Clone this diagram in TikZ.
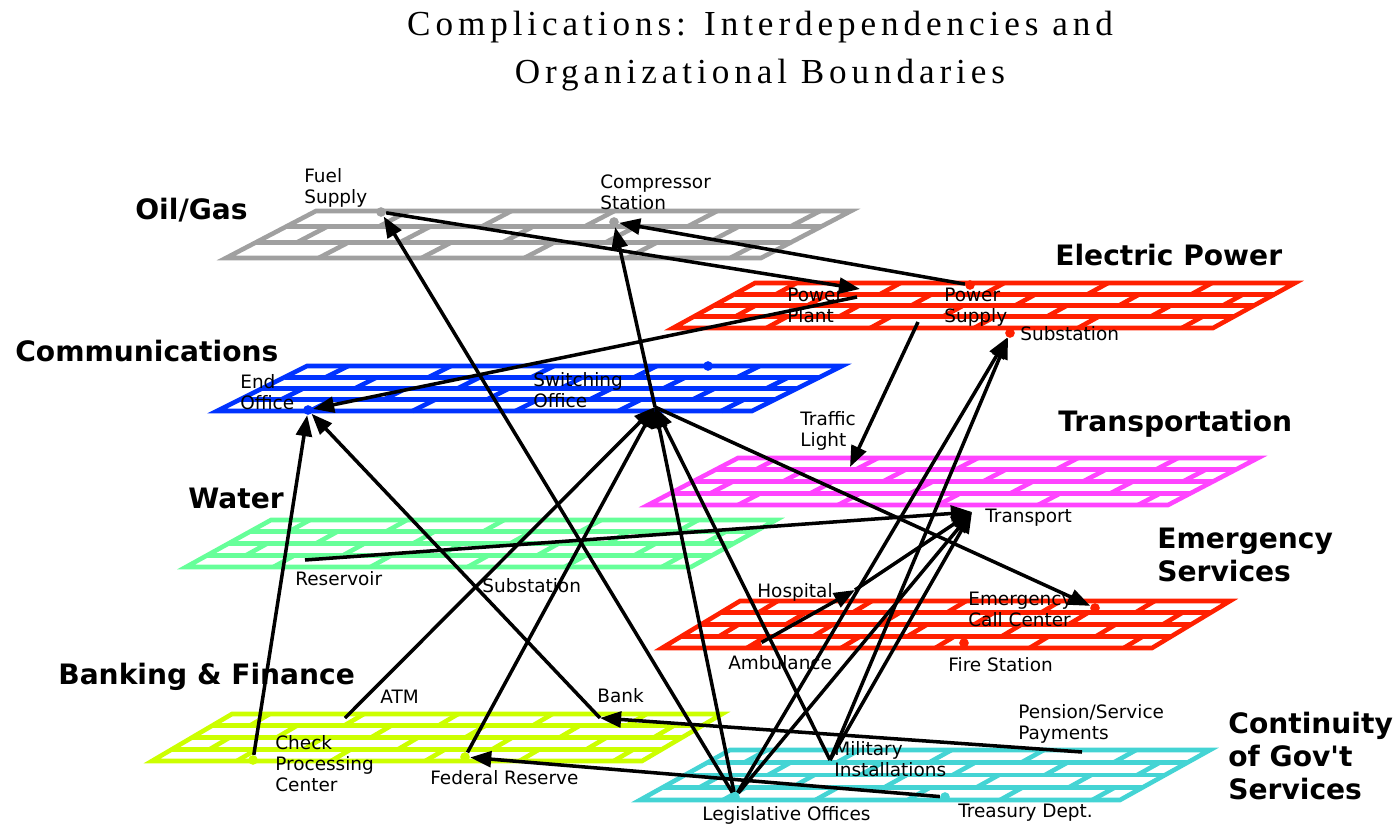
\documentclass[tikz,border=0pt]{standalone}
\usepackage{fontspec}
\setmainfont{Liberation Serif}
\newfontfamily\labelfont{DejaVu Sans}
\newfontfamily\titlefont[LetterSpace=14]{Liberation Serif}
\usetikzlibrary{arrows.meta,positioning}

\definecolor{gasgray}{RGB}{160,160,160}
\definecolor{powerred}{RGB}{255,32,0}
\definecolor{commblue}{RGB}{0,51,255}
\definecolor{transmag}{RGB}{255,68,255}
\definecolor{watergreen}{RGB}{102,255,153}
\definecolor{bankgreen}{RGB}{204,255,0}
\definecolor{govcyan}{RGB}{68,212,212}

\tikzset{%
	sector/.style = {font=\labelfont\bfseries\fontsize{16}{18.7}\selectfont, align=left, inner sep=0pt, anchor=west},
	site/.style   = {font=\labelfont\fontsize{10.5}{12}\selectfont, align=left, inner sep=0pt, anchor=north west},
	link/.style   = {line width=2pt, -{Triangle[length=12pt,width=9pt]}},
	hub/.style    = {circle, inner sep=0pt, minimum size=5.5pt},
}

% colour, x and y of lower left corner, width, slant of top edge, height, rows
\newcommand{\gridlayer}[7]{%
	\begin{scope}[shift={(#2,#3)}, x={(0.02cm,0cm)}, y={(#5*0.02cm,#6*0.02cm)}, color=#1, line width=2.6pt]
	\draw (0,0) -- (#4,0) -- (#4,1) -- (0,1) -- cycle;
	\pgfmathtruncatemacro\lastrow{#7-1}
	\foreach \k in {1,...,\lastrow} \draw (0,\k/#7) -- (#4,\k/#7);
	\foreach \k in {0,...,\lastrow}
		\foreach \j in {1,...,5} {
			\pgfmathsetmacro\u{(\j-0.5*mod(\k,2)-0.1)*#4/5.2}
			\draw (\u,\k/#7) -- (\u,{(\k+1)/#7});
		}
	\end{scope}}

\begin{document}
\begin{tikzpicture}[x=0.02cm, y=-0.02cm]
	\useasboundingbox (0,0) rectangle (1395,824);
	\node[font=\titlefont\fontsize{20}{27}\selectfont, align=center, inner sep=0pt, anchor=north] (title) at (760,11) {Complications: Interdependencies and\\Organizational Boundaries};
	
	% layers
	\gridlayer{gasgray}{226}{258}{535}{90}{47}{3}
	\gridlayer{powerred}{673}{328}{540}{82}{45}{4}
	\gridlayer{commblue}{217}{411}{535}{90}{45}{4}
	\gridlayer{transmag}{648}{505}{520}{90}{47}{4}
	\gridlayer{watergreen}{186}{567}{505}{85}{47}{4}
	\gridlayer{powerred}{662}{648}{490}{78}{47}{4}
	\gridlayer{bankgreen}{152}{761}{490}{80}{47}{4}
	\gridlayer{govcyan}{640}{800}{480}{90}{50}{4}
	
	\node[sector] (oilgas) at (135,210) {Oil/Gas};
	\node[sector] (electric) at (1055,255) {Electric Power};
	\node[sector] (comms) at (15,351) {Communications};
	\node[sector] (transp) at (1058,424) {Transportation};
	\node[sector] (water) at (188,498) {Water};
	\node[sector] (emergency) at (1157,555) {Emergency\\Services};
	\node[sector] (banking) at (58,677) {Banking \& Finance};
	\node[sector] (government) at (1228,756) {Continuity\\of Gov't\\Services};
	
	% sites
	\node[hub, fill=gasgray] (fuel) at (381,212) {};
	\node[hub, fill=gasgray] (compressor) at (614,222) {};
	\coordinate (plant) at (860,289);
	\coordinate (plantout) at (857,297);
	\node[hub, fill=powerred] (supply) at (970,285) {};
	\coordinate (supplyout) at (918,322);
	\node[hub, fill=powerred] (powersub) at (1010,333) {};
	\node[hub, fill=commblue] (endoffice) at (308,410) {};
	\node[hub, fill=commblue] (commdot) at (708,366) {};
	\coordinate (switching) at (655,407);
	\coordinate (traffic) at (850,467);
	\coordinate (transport) at (972,512);
	\coordinate (reservoir) at (305,560);
	\coordinate (hospital) at (855,590);
	\node[hub, fill=powerred] (callcenter) at (1095,608) {};
	\node[hub, fill=powerred] (ambulance) at (757,645) {};
	\node[hub, fill=powerred] (firestation) at (964,643) {};
	\coordinate (atm) at (345,718);
	\coordinate (bank) at (600,718);
	\node[hub, fill=bankgreen] (checkpc) at (253,760) {};
	\node[hub, fill=bankgreen] (fedres) at (465,757) {};
	\coordinate (pension) at (1082,752);
	\coordinate (military) at (830,760);
	\node[hub, fill=govcyan] (legis) at (735,797) {};
	\node[hub, fill=govcyan] (treasury) at (945,797) {};
	
	\node[site] (fuellbl) at (304,168) {Fuel\\Supply};
	\node[site] (compressorlbl) at (600,174) {Compressor\\Station};
	\node[site] (plantlbl) at (787,288) {Power\\Plant};
	\node[site] (supplylbl) at (944,288) {Power\\Supply};
	\node[site] (powersublbl) at (1020,326) {Substation};
	\node[site] (endofficelbl) at (240,374) {End\\Office};
	\node[site] (switchinglbl) at (533,372) {Switching\\Office};
	\node[site] (trafficlbl) at (800,411) {Traffic\\Light};
	\node[site] (transportlbl) at (985,509) {Transport};
	\node[site] (reservoirlbl) at (295,571) {Reservoir};
	\node[site] (watersublbl) at (482,578) {Substation};
	\node[site] (hospitallbl) at (757,583) {Hospital};
	\node[site] (callcenterlbl) at (968,592) {Emergency\\Call Center};
	\node[site] (ambulancelbl) at (728,655) {Ambulance};
	\node[site] (firestationlbl) at (948,657) {Fire Station};
	\node[site] (atmlbl) at (380,690) {ATM};
	\node[site] (banklbl) at (597,688) {Bank};
	\node[site] (checkpclbl) at (275,735) {Check\\Processing\\Center};
	\node[site] (fedreslbl) at (430,770) {Federal Reserve};
	\node[site] (pensionlbl) at (1018,704) {Pension/Service\\Payments};
	\node[site] (militarylbl) at (834,741) {Military\\Installations};
	\node[site] (legislbl) at (702,806) {Legislative Offices};
	\node[site] (treasurylbl) at (958,804) {Treasury Dept.};
	
	% dependencies
	\draw[link] (fuel) -- (plant);
	\draw[link] (supply) -- (compressor);
	\draw[link] (plantout) -- (endoffice);
	\draw[link] (supplyout) -- (traffic);
	\draw[link] (legis) -- (fuel);
	\draw[link] (switching) -- (compressor);
	\draw[link] (atm) -- (switching);
	\draw[link] (fedres) -- (switching);
	\draw[link] (legis) -- (switching);
	\draw[link] (military) -- (switching);
	\draw[link] (switching) -- (callcenter);
	\draw[link] (bank) -- (endoffice);
	\draw[link] (checkpc) -- (endoffice);
	\draw[link] (reservoir) -- (transport);
	\draw[link] (ambulance) -- (hospital);
	\draw[link] (hospital) -- (transport);
	\draw[link] (legis) -- (transport);
	\draw[link] (military) -- (transport);
	\draw[link] (legis) -- (powersub);
	\draw[link] (military) -- (powersub);
	\draw[link] (pension) -- (bank);
	\draw[link] (treasury) -- (fedres);
\end{tikzpicture}
\end{document}
